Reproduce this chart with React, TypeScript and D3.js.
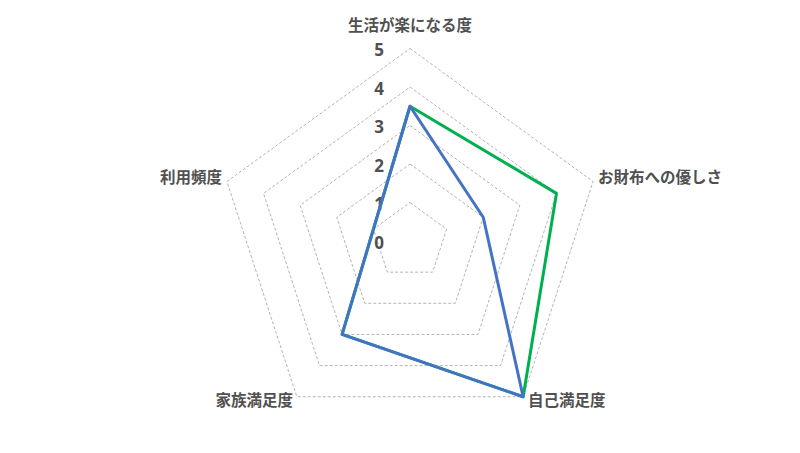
import React, { useEffect, useRef } from 'react';
import * as d3 from 'd3';

// Axis categories (clockwise from top)
const categories = ['生活が楽になる度', 'お財布への優しさ', '自己満足度', '家族満足度', '利用頻度'];
const tickValues = [0, 1, 2, 3, 4, 5];
// null = empty cell, skipped and connected across
const blueValues: (number | null)[] = [3.5, 2, 5, 3, null];
const greenValues: (number | null)[] = [3.5, 4, 5, 3, null];

const WIDTH = 800;
const HEIGHT = 453;

const App: React.FC = () => {
  const svgRef = useRef<SVGSVGElement>(null);

  useEffect(() => {
    if (!svgRef.current) return;
    const cx = 410;
    const cy = 241;
    const maxR = 192.5;
    const font = '"Noto Sans CJK JP", "Noto Sans", sans-serif';
    const textColor = '#505050';

    const svg = d3.select(svgRef.current);
    svg.selectAll('*').remove();
    svg.attr('width', WIDTH).attr('height', HEIGHT);

    const g = svg.append('g').attr('transform', `translate(${cx},${cy})`);

    const r = d3.scaleLinear().domain([0, 5]).range([0, maxR]);
    const angle = d3
      .scalePoint<number>()
      .domain(d3.range(categories.length + 1))
      .range([0, 2 * Math.PI]);

    const ptAt = (i: number, v: number): [number, number] => {
      const a = angle(i)!;
      return [Math.sin(a) * r(v), -Math.cos(a) * r(v)];
    };

    // Grid pentagons
    const ring = d3
      .lineRadial<number>()
      .angle((_, i) => angle(i)!)
      .curve(d3.curveLinearClosed);

    tickValues
      .filter((t) => t > 0)
      .forEach((t) => {
        g.append('path')
          .attr('d', ring.radius(r(t))(categories.map(() => t)))
          .attr('fill', 'none')
          .attr('stroke', '#9a9a9a')
          .attr('stroke-width', 0.75)
          .attr('stroke-dasharray', '3,2');
      });

    // Tick labels
    g.selectAll('.tick-label')
      .data(tickValues)
      .enter()
      .append('text')
      .attr('class', 'tick-label')
      .attr('x', -26)
      .attr('y', (d) => -r(d) + 3)
      .attr('text-anchor', 'end')
      .attr('dominant-baseline', 'middle')
      .style('font-family', '"Open Sans", sans-serif')
      .style('font-weight', 'bold')
      .style('font-size', '17px')
      .style('fill', textColor)
      .text((d) => d);

    // Series
    const drawSeries = (values: (number | null)[], color: string) => {
      const pts = values
        .map((v, i) => (v == null ? null : ptAt(i, v)))
        .filter((p): p is [number, number] => p !== null);
      g.append('path')
        .attr('d', d3.line().curve(d3.curveLinearClosed)(pts))
        .attr('fill', 'none')
        .attr('stroke', color)
        .attr('stroke-width', 3)
        .attr('stroke-linejoin', 'round');
    };
    drawSeries(greenValues, '#00b050');
    drawSeries(blueValues, '#4472c4');

    // Category labels
    const labelPos: { dx: number; dy: number; anchor: string }[] = [
      { dx: 0, dy: -214, anchor: 'middle' },
      { dx: 188, dy: -62, anchor: 'start' },
      { dx: 118, dy: 161, anchor: 'start' },
      { dx: -117, dy: 161, anchor: 'end' },
      { dx: -188, dy: -62, anchor: 'end' },
    ];
    categories.forEach((c, i) => {
      g.append('text')
        .attr('x', labelPos[i].dx)
        .attr('y', labelPos[i].dy)
        .attr('text-anchor', labelPos[i].anchor)
        .attr('dominant-baseline', 'middle')
        .style('font-family', font)
        .style('font-weight', 'bold')
        .style('font-size', '15.5px')
        .style('fill', textColor)
        .text(c);
    });
  }, []);

  return (
    <svg
      ref={svgRef}
      style={{ position: 'absolute', left: 0, top: 0, background: '#fff' }}
    />
  );
};

export default App;
